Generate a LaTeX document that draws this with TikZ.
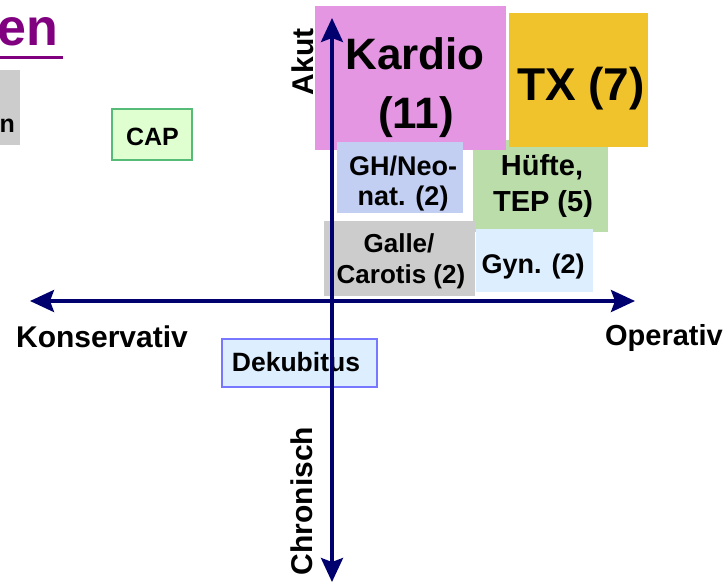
\documentclass[tikz,border=0pt]{standalone}
\usepackage{fontspec}
\setmainfont{Liberation Sans}
\usetikzlibrary{arrows.meta}
\newcommand\myfs[1]{\fontsize{#1}{#1}\selectfont}
\definecolor{navy}{RGB}{0,0,110}
\definecolor{kardiocol}{RGB}{229,150,226}
\definecolor{txcol}{RGB}{240,194,43}
\definecolor{ghcol}{RGB}{194,206,242}
\definecolor{huftecol}{RGB}{187,221,170}
\definecolor{gallecol}{RGB}{204,204,204}
\definecolor{gyncol}{RGB}{221,238,255}
\definecolor{dekborder}{RGB}{119,119,255}
\definecolor{capfill}{RGB}{224,255,208}
\definecolor{capborder}{RGB}{85,187,119}
\definecolor{titlecol}{RGB}{128,0,128}
\tikzset{
  box/.style={rectangle, inner sep=0pt, draw=none},
  lbl/.style={anchor=base, inner sep=0pt, text=black},
  axis/.style={navy, line width=3.5pt, {Stealth[length=24pt,width=22pt,inset=4pt]}-{Stealth[length=24pt,width=22pt,inset=4pt]}}
}
\begin{document}
\begin{tikzpicture}[x=1pt,y=-1pt]
\useasboundingbox (0,0) rectangle (728,584);
\clip (0,0) rectangle (728,584);
% title fragment
\node[lbl, anchor=base east, text=titlecol, font=\bfseries\myfs{52}] (title) at (58,45) {en};
\fill[titlecol] (0,55.5) rectangle (63,59);
% left gray box fragment
\node[box, fill=gallecol, minimum width=20pt, minimum height=75pt] (leftbox) at (10,107.5) {};
\node[lbl, anchor=base east, font=\bfseries\myfs{25}] (lefttext) at (15,132) {n};
% boxes
\node[box, fill=huftecol, minimum width=135pt, minimum height=92pt] (hufte) at (540.5,186) {};
\node[box, fill=kardiocol, minimum width=191pt, minimum height=144pt] (kardio) at (410.5,78) {};
\node[box, fill=txcol, minimum width=139pt, minimum height=134pt] (tx) at (578.5,80) {};
\node[box, fill=ghcol, minimum width=126pt, minimum height=71pt] (gh) at (400,177.5) {};
\node[box, fill=gallecol, minimum width=151pt, minimum height=75pt] (galle) at (399.5,258.5) {};
\node[box, fill=gyncol, minimum width=117pt, minimum height=63pt] (gyn) at (534.5,260.5) {};
\node[box, fill=gyncol, draw=dekborder, line width=2pt, minimum width=155pt, minimum height=48pt] (dek) at (299.5,363) {};
\node[box, fill=capfill, draw=capborder, line width=2pt, minimum width=80pt, minimum height=51pt] (cap) at (152,134.5) {};
% texts
\node[lbl, font=\bfseries\myfs{44}] (kardioA) at (415,69) {Kardio};
\node[lbl, font=\bfseries\myfs{44}] (kardioB) at (416,128) {(11)};
\node[lbl, font=\bfseries\myfs{46}] (txA) at (581,100) {TX (7)};
\node[lbl, font=\bfseries\myfs{27}] (ghA) at (403,175) {GH/Neo-};
\node[lbl, font=\bfseries\myfs{27}] (ghB) at (403,205) {nat. (2)};
\node[lbl, font=\bfseries\myfs{29}] (hufteA) at (542,175) {Hüfte,};
\node[lbl, font=\bfseries\myfs{29}] (hufteB) at (543,211) {TEP (5)};
\node[lbl, font=\bfseries\myfs{26}] (galleA) at (399,252) {Galle/};
\node[lbl, font=\bfseries\myfs{26}] (galleB) at (401,283) {Carotis (2)};
\node[lbl, font=\bfseries\myfs{27}] (gynA) at (533,273) {Gyn. (2)};
\node[lbl, font=\bfseries\myfs{26.5}] (dekA) at (296,371) {Dekubitus};
\node[lbl, font=\bfseries\myfs{25}] (capA) at (152.5,145) {CAP};
% axes
\coordinate (west) at (30,301);
\coordinate (east) at (635,301);
\coordinate (north) at (332,18);
\coordinate (south) at (332,582);
\draw[axis] (west) -- (east);
\draw[axis] (south) -- (north);
% axis labels
\node[lbl, font=\bfseries\myfs{30}] (kons) at (102,347) {Konservativ};
\node[lbl, font=\bfseries\myfs{29}] (oper) at (664,345) {Operativ};
\node[lbl, rotate=90, font=\bfseries\myfs{30}] (akut) at (313,62) {Akut};
\node[lbl, rotate=90, font=\bfseries\myfs{30}] (chron) at (312,501) {Chronisch};
\end{tikzpicture}
\end{document}
